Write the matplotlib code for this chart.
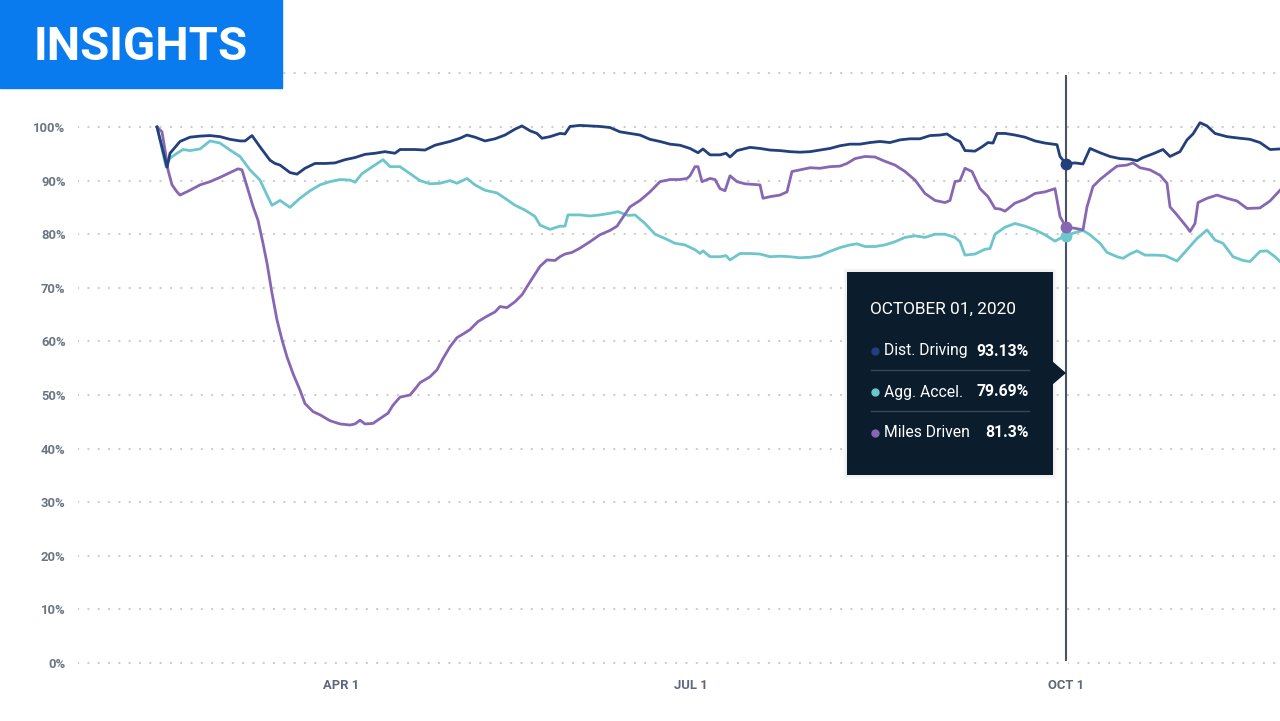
import matplotlib.pyplot as plt
from matplotlib.patches import Rectangle, Polygon
from matplotlib.lines import Line2D

plt.rcParams['font.family'] = ['Roboto', 'DejaVu Sans']

W, H = 1280, 721

# position along the date axis for each sample, and the value in %
dist_t = [157, 167, 170, 180, 190, 200, 210, 220, 230, 240, 245, 252, 260, 270, 275, 280,
          290, 297, 305, 315, 325, 335, 345, 355, 365, 375, 385, 395, 400, 415, 425, 435,
          450, 460, 467, 475, 485, 495, 505, 515, 522, 530, 537, 542, 550, 560, 565, 570,
          580, 590, 600, 610, 620, 630, 640, 650, 660, 670, 680, 690, 698, 703, 710, 720,
          726, 730, 737, 750, 760, 770, 780, 790, 800, 810, 820, 830, 840, 850, 860, 870,
          880, 890, 900, 910, 920, 930, 940, 947, 955, 960, 965, 975, 982, 988, 993, 997,
          1005, 1015, 1025, 1035, 1045, 1053, 1057, 1060, 1066, 1075, 1083, 1090, 1100, 1110,
          1120, 1130, 1137, 1143, 1153, 1163, 1170, 1180, 1187, 1193, 1200, 1207, 1215, 1227,
          1240, 1250, 1260, 1270, 1280]
dist_v = [100, 92.5, 95.1, 97.3, 98.1, 98.3, 98.4, 98.2, 97.7, 97.4, 97.4, 98.4, 96.3, 93.8, 93.2, 92.9,
          91.5, 91.2, 92.3, 93.2, 93.2, 93.3, 93.9, 94.3, 94.9, 95.1, 95.4, 95.1, 95.8, 95.8, 95.7, 96.6,
          97.3, 97.9, 98.5, 98.1, 97.4, 97.8, 98.5, 99.6, 100.2, 99.3, 98.8, 97.9, 98.2, 98.8, 98.7, 100.1,
          100.3, 100.2, 100.1, 99.9, 99.1, 98.8, 98.5, 97.7, 97.3, 96.8, 96.6, 96.0, 95.2, 95.9, 94.8, 94.8,
          95.1, 94.4, 95.6, 96.2, 96.0, 95.7, 95.6, 95.4, 95.3, 95.4, 95.7, 96.0, 96.5, 96.8, 96.8, 97.1,
          97.3, 97.1, 97.6, 97.8, 97.8, 98.4, 98.5, 98.7, 97.7, 97.3, 95.6, 95.5, 96.3, 97.1, 97.0, 98.8,
          98.8, 98.5, 98.1, 97.4, 97.0, 96.8, 96.7, 94.5, 93.13, 93.3, 93.1, 96.0, 95.2, 94.5,
          94.1, 94.0, 93.7, 94.3, 95.0, 95.8, 94.5, 95.4, 97.6, 98.7, 100.8, 100.2, 98.8, 98.2,
          97.9, 97.7, 97.1, 95.8, 95.9]

accel_t = [157, 163, 166, 170, 177, 183, 190, 200, 210, 220, 230, 240, 250, 260, 267, 272,
           280, 290, 300, 310, 320, 330, 340, 350, 355, 362, 370, 383, 390, 400, 410, 420,
           430, 440, 450, 457, 467, 475, 485, 497, 505, 515, 525, 535, 540, 550, 560, 565,
           568, 580, 590, 600, 610, 618, 628, 635, 645, 655, 665, 675, 685, 695, 700, 703,
           710, 720, 726, 730, 740, 750, 760, 770, 780, 790, 800, 810, 820, 830, 840, 850,
           857, 865, 875, 885, 895, 905, 915, 925, 935, 945, 955, 960, 965, 975, 985, 990,
           995, 1005, 1015, 1025, 1035, 1045, 1055, 1060, 1066, 1075, 1083, 1090, 1100, 1107,
           1117, 1123, 1130, 1137, 1145, 1155, 1165, 1177, 1187, 1197, 1207, 1215, 1223, 1233,
           1243, 1250, 1260, 1267, 1275, 1280]
accel_v = [100, 95.1, 92.6, 94.2, 95.1, 95.8, 95.6, 95.9, 97.4, 97.0, 95.7, 94.5, 92.0, 90.1, 87.3, 85.4,
           86.3, 85.0, 86.7, 88.1, 89.2, 89.8, 90.2, 90.1, 89.7, 91.3, 92.3, 93.9, 92.6, 92.6, 91.3, 90.0,
           89.4, 89.5, 90.0, 89.5, 90.4, 89.2, 88.2, 87.7, 86.7, 85.4, 84.5, 83.3, 81.7, 80.9, 81.5, 81.5,
           83.6, 83.6, 83.4, 83.6, 83.9, 84.2, 83.5, 83.6, 82.0, 80.0, 79.2, 78.3, 78.0, 77.1, 76.4, 76.9,
           75.8, 75.8, 76.0, 75.2, 76.4, 76.4, 76.3, 75.8, 75.9, 75.8, 75.6, 75.7, 76.0, 76.8, 77.5, 78.0,
           78.2, 77.7, 77.7, 78.0, 78.6, 79.4, 79.7, 79.4, 80.0, 80.0, 79.4, 78.6, 76.1, 76.3, 77.2, 77.3,
           80.0, 81.3, 82.0, 81.5, 80.8, 79.9, 78.7, 79.2, 79.69, 80.3, 80.7, 79.9, 78.3, 76.6,
           75.8, 75.5, 76.3, 76.9, 76.1, 76.1, 76.0, 75.0, 77.1, 79.2, 80.8, 78.9, 78.3, 75.8,
           75.1, 74.9, 76.8, 76.9, 75.8, 74.9]

miles_t = [157, 162, 165, 168, 172, 177, 180, 190, 200, 210, 220, 230, 238, 242, 247, 253,
           258, 263, 267, 272, 277, 282, 287, 293, 300, 305, 313, 320, 330, 340, 350, 355,
           360, 365, 373, 380, 388, 393, 400, 410, 415, 420, 430, 437, 443, 450, 457, 465,
           470, 478, 487, 495, 500, 507, 515, 522, 530, 540, 547, 555, 560, 565, 572, 580,
           590, 600, 610, 617, 622, 630, 640, 650, 660, 670, 680, 687, 690, 695, 698, 702,
           710, 715, 720, 725, 730, 737, 745, 760, 763, 770, 780, 787, 792, 800, 810, 820,
           830, 840, 847, 855, 865, 875, 885, 895, 905, 915, 925, 935, 945, 950, 955, 960,
           965, 972, 980, 988, 995, 1000, 1005, 1015, 1025, 1035, 1045, 1055, 1060, 1066,
           1075, 1083, 1087, 1093, 1100, 1110, 1117, 1127, 1133, 1140, 1150, 1160, 1167, 1170,
           1177, 1187, 1190, 1195, 1198, 1207, 1217, 1227, 1237, 1247, 1260, 1270, 1280]
miles_v = [100, 99.1, 95.7, 92.0, 89.2, 87.9, 87.3, 88.2, 89.2, 89.8, 90.6, 91.5, 92.2, 92.0, 88.9, 85.2,
           82.6, 78.3, 74.6, 69.0, 64.0, 60.3, 57.1, 54.0, 50.9, 48.4, 46.9, 46.3, 45.2, 44.6, 44.4, 44.6,
           45.3, 44.6, 44.7, 45.6, 46.6, 48.1, 49.6, 50.0, 51.1, 52.3, 53.4, 54.7, 56.8, 59.0, 60.7, 61.6,
           62.2, 63.7, 64.7, 65.5, 66.5, 66.3, 67.4, 68.7, 71.1, 74.0, 75.2, 75.1, 75.8, 76.3, 76.6, 77.4,
           78.6, 79.9, 80.7, 81.5, 82.9, 85.1, 86.3, 87.9, 89.8, 90.2, 90.2, 90.4, 90.9, 92.6, 92.6, 89.8,
           90.4, 90.2, 88.5, 88.1, 90.9, 89.8, 89.4, 89.2, 86.7, 87.0, 87.3, 87.9, 91.7, 92.0, 92.4, 92.3,
           92.6, 92.7, 93.2, 94.1, 94.5, 94.4, 93.6, 92.9, 91.7, 90.1, 87.6, 86.3, 85.9, 86.3, 89.8, 90.0,
           92.3, 91.7, 88.5, 87.0, 84.8, 84.7, 84.3, 85.8, 86.5, 87.6, 87.9, 88.5, 83.3, 81.3,
           81.1, 80.8, 85.1, 88.9, 90.2, 91.7, 92.7, 92.9, 93.3, 92.4, 92.0, 91.0, 89.5, 85.1,
           83.6, 81.3, 80.5, 82.0, 85.9, 86.7, 87.3, 86.7, 86.2, 84.8, 84.9, 86.2, 88.2]

y_ticks = [0, 10, 20, 30, 40, 50, 60, 70, 80, 90, 100]
y_labels = ['0%', '10%', '20%', '30%', '40%', '50%', '60%', '70%', '80%', '90%', '100%']
grid_levels = y_ticks + [110]
x_ticks = [341, 691, 1066]
x_labels = ['APR 1', 'JUL 1', 'OCT 1']

hover_t = 1066
hover_date = 'OCTOBER 01, 2020'
hover_names = ['Dist. Driving', 'Agg. Accel.', 'Miles Driven']
hover_values = [93.13, 79.69, 81.3]
hover_texts = ['93.13%', '79.69%', '81.3%']

NAVY = '#233f7c'
TEAL = '#6cc6cb'
PURPLE = '#8766b4'
colors = [NAVY, TEAL, PURPLE]


def fx(x):
    return x / W


def fy(y):
    return 1 - y / H


fig = plt.figure(figsize=(W / 100, H / 100), dpi=100)
# y: 0% at px 663, 100% at px 127 -> 5.36 px per %
ax = fig.add_axes([fx(78), fy(663 + 2 * 5.36), 1 - fx(78), (114 * 5.36) / H])
ax.set_xlim(78, 1280)
ax.set_ylim(-2, 112)

for lv in grid_levels:
    ax.axhline(lv, color='#cccccc', lw=1.6, linestyle=(0, (0.1, 4.54)),
               dash_capstyle='round', zorder=1)

ax.plot(accel_t, accel_v, color=TEAL, lw=2.0, zorder=3)
ax.plot(miles_t, miles_v, color=PURPLE, lw=2.0, zorder=4)
ax.plot(dist_t, dist_v, color=NAVY, lw=2.0, zorder=5)

# hover line and markers
ax.axvline(hover_t, ymin=0, ymax=1, color='#4a5461', lw=1.5, zorder=6)
ax.plot([hover_t, hover_t], [-2, 0], color='white', lw=3, zorder=6)
ax.plot([hover_t, hover_t], [110, 112], color='white', lw=3, zorder=6)
for v, c in zip(hover_values, colors):
    ax.plot(hover_t, v, 'o', color=c, ms=7.5, zorder=7)

ax.set_yticks(y_ticks)
ax.set_yticklabels(y_labels)
ax.set_xticks(x_ticks)
ax.set_xticklabels(x_labels)
ax.tick_params(axis='y', length=0, pad=9, labelsize=9.4, labelcolor='#6b7684')
ax.tick_params(axis='x', length=0, pad=4, labelsize=9.4, labelcolor='#5d6878')
for lab in ax.get_xticklabels() + ax.get_yticklabels():
    lab.set_fontweight('bold')
for s in ax.spines.values():
    s.set_visible(False)

# banner
fig.add_artist(Rectangle((0, fy(88)), fx(282), 88 / H, transform=fig.transFigure,
                         color='#0a7bef', zorder=20))
fig.text(fx(34), fy(47), 'INSIGHTS', color='white', fontsize=34, fontweight='bold',
         ha='left', va='center', zorder=21)

# tooltip
bx0, bx1, by0, by1 = 847, 1053, 272, 475
for i, a in enumerate([0.012, 0.018, 0.025]):
    g = 4 - i
    fig.add_artist(Rectangle((fx(bx0 - g), fy(by1 + g)), (bx1 - bx0 + 2 * g) / W,
                             (by1 - by0 + 2 * g) / H, transform=fig.transFigure,
                             color='black', alpha=a, lw=0, zorder=18))
fig.add_artist(Rectangle((fx(bx0), fy(by1)), (bx1 - bx0) / W, (by1 - by0) / H,
                         transform=fig.transFigure, color='#0b1c2c', lw=0, zorder=19))
fig.add_artist(Polygon([(fx(bx1 - 1), fy(361)), (fx(1066), fy(373)), (fx(bx1 - 1), fy(385))],
                       closed=True, transform=fig.transFigure, color='#0b1c2c', lw=0, zorder=19))

fig.text(fx(870), fy(309), hover_date, color='white', fontsize=12.4, ha='left', va='center', zorder=21)
row_y = [351, 392, 433]
for i, (name, txt, c) in enumerate(zip(hover_names, hover_texts, colors)):
    yy = row_y[i]
    fig.add_artist(Line2D([fx(875)], [fy(yy)], transform=fig.transFigure, marker='o',
                          ms=5, color=c, lw=0, zorder=21))
    fig.text(fx(884), fy(yy), name, color='white', fontsize=11.3, ha='left', va='center', zorder=21)
    fig.text(fx(1029), fy(yy), txt, color='white', fontsize=11.3, fontweight='bold',
             ha='right', va='center', zorder=21)
for sy in [370, 411]:
    fig.add_artist(Line2D([fx(871), fx(1029)], [fy(sy), fy(sy)], transform=fig.transFigure,
                          color='#34495c', lw=1, zorder=21))

plt.savefig('out.png', dpi=100)
